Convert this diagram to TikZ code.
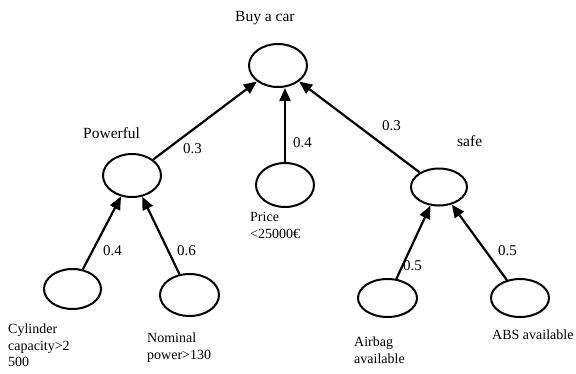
\documentclass[tikz,border=0pt]{standalone}
\usepackage{fontspec}
\setmainfont{Liberation Serif}
\usetikzlibrary{shapes.geometric,arrows.meta}

\tikzset{
  factor/.style={ellipse, draw=black, line width=2pt, inner sep=0pt, fill=white},
  link/.style={line width=2.2pt, -{Triangle[length=13pt,width=11pt]}},
  title/.style={anchor=base west, inner sep=0pt, font=\fontsize{15.5}{18}\selectfont},
  weight/.style={anchor=base west, inner sep=0pt, font=\fontsize{15}{18}\selectfont},
  leaf/.style={anchor=north west, inner sep=0pt, align=left, font=\fontsize{14}{16.7}\selectfont},
}

\begin{document}
\begin{tikzpicture}[x=1pt, y=-1pt]
  \useasboundingbox[fill=white] (0,0) rectangle (576,373);

  % decision tree nodes
  \node[factor, minimum width=58pt, minimum height=43pt] (buy)    at (278,65.5) {};
  \node[factor, minimum width=58pt, minimum height=43pt] (pow)    at (132,175.5) {};
  \node[factor, minimum width=58pt, minimum height=44pt] (price)  at (285,185) {};
  \node[factor, minimum width=56pt, minimum height=37pt] (safe)   at (439,187) {};
  \node[factor, minimum width=57pt, minimum height=40pt] (cyl)    at (72.5,289) {};
  \node[factor, minimum width=59pt, minimum height=42pt] (nom)    at (189.5,295) {};
  \node[factor, minimum width=59pt, minimum height=38pt] (airbag) at (387.5,298) {};
  \node[factor, minimum width=58pt, minimum height=38pt] (abs)    at (520,298) {};

  % weighted links
  \draw[link] (pow) -- (buy);
  \draw[link] (price.north) -- (price.north |- buy.south);
  \draw[link] (safe) -- (buy);
  \draw[link] (cyl) -- (pow);
  \draw[link] (nom) -- (pow);
  \draw[link] (airbag) -- (safe);
  \draw[link] (abs) -- (safe);

  % titles
  \node[title] (tbuy)  at (235,21)  {Buy a car};
  \node[title] (tpow)  at (83,138)  {Powerful};
  \node[title] (tsafe) at (457,146) {safe};

  % weights
  \node[weight] (w1) at (183,153) {0.3};
  \node[weight] (w2) at (293,147) {0.4};
  \node[weight] (w3) at (382,130) {0.3};
  \node[weight] (w4) at (103,255) {0.4};
  \node[weight] (w5) at (177,255) {0.6};
  \node[weight] (w6) at (403,270) {0.5};
  \node[weight] (w7) at (498,255) {0.5};

  % criteria
  \node[leaf] (lprice)  at (250,212.5) {Price\\<25000€};
  \node[leaf] (lcyl)    at (8,323.5)   {Cylinder\\capacity>2\\500};
  \node[leaf] (lnom)    at (147,332.5) {Nominal\\power>130};
  \node[leaf] (lairbag) at (354,336.5) {Airbag\\available};
  \node[title, font=\fontsize{14}{16.7}\selectfont] (labs) at (492,339) {ABS available};
\end{tikzpicture}
\end{document}
